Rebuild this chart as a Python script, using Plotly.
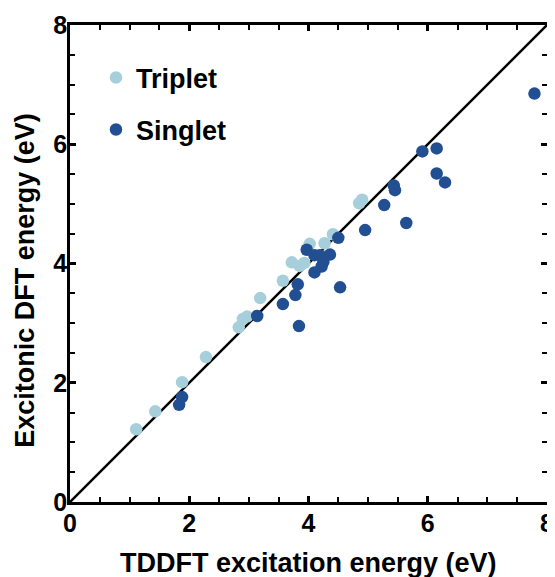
import plotly.graph_objects as go

triplet_x = [1.11, 1.43, 1.88, 2.28, 2.83, 2.90, 2.97, 3.19, 3.57, 3.72, 3.85, 3.93, 4.02, 4.27, 4.41, 4.85, 4.90]
triplet_y = [1.22, 1.52, 2.01, 2.43, 2.93, 3.07, 3.11, 3.42, 3.71, 4.02, 3.96, 4.01, 4.33, 4.34, 4.49, 5.01, 5.07]

singlet_x = [1.83, 1.88, 3.14, 3.57, 3.78, 3.82, 3.84, 3.97, 4.10, 4.19, 4.25, 4.36, 4.22, 4.10, 4.50, 4.53,
             4.95, 5.27, 5.43, 5.45, 5.64, 5.91, 6.15, 6.15, 6.29, 7.79]
singlet_y = [1.63, 1.76, 3.12, 3.32, 3.47, 3.65, 2.95, 4.23, 4.14, 4.14, 4.03, 4.15, 3.95, 3.85, 4.43, 3.60,
             4.56, 4.98, 5.31, 5.23, 4.68, 5.88, 5.93, 5.51, 5.36, 6.85]

diag = [0, 8]

x_title = "TDDFT excitation energy (eV)"
y_title = "Excitonic DFT energy (eV)"

TRIPLET_COLOR = "#a6cfdb"
SINGLET_COLOR = "#214f91"
FONT = "Liberation Sans, Arial, sans-serif"

fig = go.Figure()
fig.add_trace(go.Scatter(x=diag, y=diag, mode="lines", line=dict(color="black", width=2.5),
                         showlegend=False, hoverinfo="skip"))
fig.add_trace(go.Scatter(x=triplet_x, y=triplet_y, mode="markers", name="Triplet",
                         marker=dict(color=TRIPLET_COLOR, size=12.5), legend="legend"))
fig.add_trace(go.Scatter(x=singlet_x, y=singlet_y, mode="markers", name="Singlet",
                         marker=dict(color=SINGLET_COLOR, size=12.5), legend="legend2"))

axis_common = dict(
    range=[0, 8], dtick=2, tick0=0, ticks="inside", ticklen=6, tickwidth=2.5, tickcolor="black",
    showline=True, linecolor="black", linewidth=2.5, mirror="ticks", showgrid=False, zeroline=False,
    automargin=False, ticklabeloverflow="allow",
    tickfont=dict(family=FONT, size=25, color="black", weight="bold"),
    minor=dict(dtick=0.5, ticks="inside", ticklen=5, tickwidth=2, tickcolor="black", showgrid=False),
)

title_font = dict(family=FONT, size=27, color="black", weight="bold")

fig.update_layout(
    width=547, height=569,
    margin=dict(l=62, r=8, t=17, b=75),
    paper_bgcolor="white", plot_bgcolor="white",
    font=dict(family=FONT, color="black", weight="bold"),
    xaxis=dict(**axis_common, ticklabelstandoff=-3),
    yaxis=dict(**axis_common, ticklabelstandoff=-5),
    legend=dict(x=0.0545, y=0.889, xanchor="left", yanchor="middle", bgcolor="rgba(0,0,0,0)",
                font=dict(family=FONT, size=27, color="black", weight="bold")),
    legend2=dict(x=0.0545, y=0.780, xanchor="left", yanchor="middle", bgcolor="rgba(0,0,0,0)",
                 font=dict(family=FONT, size=27, color="black", weight="bold")),
    annotations=[
        dict(text=x_title, xref="paper", yref="paper", x=0.5, y=-0.163, xanchor="center",
             yanchor="bottom", showarrow=False, font=title_font),
        dict(text=y_title, xref="paper", yref="paper", x=-0.093, y=0.465, xanchor="center",
             yanchor="middle", showarrow=False, textangle=-90, font=title_font),
    ],
)

fig.write_html("out.html")
